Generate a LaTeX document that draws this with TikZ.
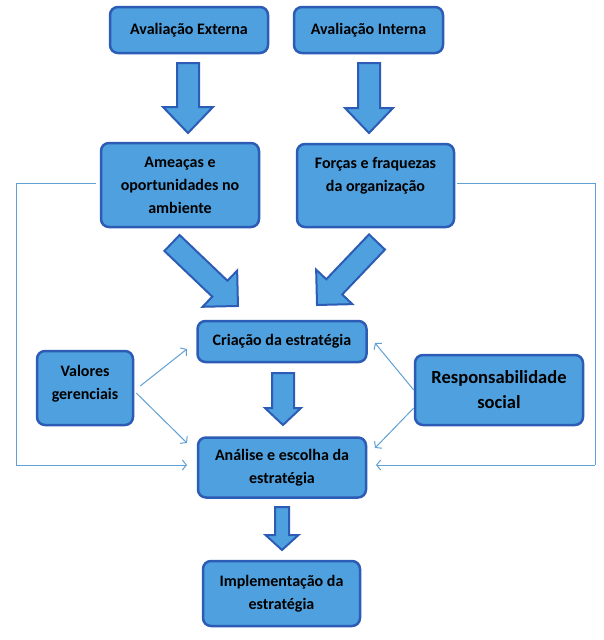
\documentclass[tikz,border=0pt]{standalone}
\usepackage{fontspec}
\setmainfont{Carlito}
\usetikzlibrary{arrows.meta,calc}
\definecolor{boxfill}{RGB}{79,160,222}
\definecolor{boxline}{RGB}{44,92,182}
\definecolor{fbline}{RGB}{96,160,212}
\tikzset{
  box/.style={draw=boxline, line width=2.5pt, fill=boxfill, rounded corners=8pt,
    align=center, inner sep=0pt, font=\fontsize{16}{23}\selectfont\bfseries, text=black},
  bigbox/.style={box, font=\fontsize{18.5}{25}\selectfont\bfseries},
  blockarrow/.style={draw=boxline, line width=2pt, fill=boxfill, line join=miter},
  fb/.style={draw=fbline, line width=1pt, -{Straight Barb[length=4pt,width=10pt]}},
  fbline/.style={draw=fbline, line width=1pt}
}
\newcommand\barrow[5]{%
  \path[blockarrow] let \p1=(#1), \p2=(#2),
    \n1={atan2(\y2-\y1,\x2-\x1)}, \n2={veclen(\x2-\x1,\y2-\y1)} in
    [shift={(\p1)}, rotate=\n1, x=1pt, y=1pt]
    (0,-#3) -- ({\n2-#5},-#3) -- ({\n2-#5},-#4) -- (\n2,0) -- ({\n2-#5},#4) -- ({\n2-#5},#3) -- (0,#3) -- cycle;}
\begin{document}
\begin{tikzpicture}[x=1pt, y=-1pt]
\useasboundingbox (0,0) rectangle (604,640);
% boxes
\node[box, minimum width=158pt, minimum height=46pt] (ext) at (189,30) {Avaliação Externa};
\node[box, minimum width=149pt, minimum height=46pt] (int) at (368.5,30) {Avaliação Interna};
\node[box, minimum width=158pt, minimum height=84pt] (ame) at (180,185) {Ameaças e\\oportunidades no\\ambiente};
\node[box, minimum width=157pt, minimum height=83pt] (for) at (375.5,185.5) {Forças e fraquezas\\da organização\\\mbox{}};
\node[box, minimum width=169pt, minimum height=41pt] (cri) at (282,341.5) {Criação da estratégia};
\node[box, minimum width=168pt, minimum height=60pt] (ana) at (282,467.5) {Análise e escolha da\\estratégia};
\node[box, minimum width=157pt, minimum height=65pt] (imp) at (281.5,593.5) {Implementação da\\estratégia};
\node[box, minimum width=96pt, minimum height=74pt] (val) at (85,388) {Valores\\gerenciais\\[-12pt]\mbox{}};
\node[bigbox, minimum width=168pt, minimum height=70pt] (res) at (499,390) {Responsabilidade\\social};
% block arrows
\coordinate (a1s) at (188,63);  \coordinate (a1e) at (188,133);
\coordinate (a2s) at (369,63);  \coordinate (a2e) at (369,133);
\coordinate (a3s) at (172,243); \coordinate (a3e) at (238,306);
\coordinate (a4s) at (377,242); \coordinate (a4e) at (317,305);
\coordinate (a5s) at (283,373); \coordinate (a5e) at (283,425);
\coordinate (a6s) at (282,507); \coordinate (a6e) at (282,550);
\barrow{a1s}{a1e}{11}{25}{26}
\barrow{a2s}{a2e}{11}{24}{25}
\barrow{a3s}{a3e}{11}{25}{25}
\barrow{a4s}{a4e}{11}{25}{25}
\barrow{a5s}{a5e}{11}{18}{17}
\barrow{a6s}{a6e}{7}{16.5}{15}
% feedback loops
\coordinate (lt) at (16,183); \coordinate (lb) at (16,465); \coordinate (le) at (187,465);
\coordinate (rt) at (595,183); \coordinate (rb) at (595,465); \coordinate (re) at (376,465);
\draw[fbline] ([shift={(-4,-2)}]ame.west) -- (lt) -- (lb);
\draw[fb] (lb) -- (le);
\draw[fbline] ([shift={(2,-2.5)}]for.east) -- (rt) -- (rb);
\draw[fb] (rb) -- (re);
% influences
\coordinate (va1) at (187,349); \coordinate (va2) at (187,443);
\coordinate (ra1) at (375,343); \coordinate (ra2) at (375,448);
\draw[fb] ($(val.east)+(6,-2)$) -- (va1);
\draw[fb] ($(val.east)+(2,5)$) -- (va2);
\draw[fb] (res.west) -- (ra1);
\draw[fb] ($(res.west)+(0,18)$) -- (ra2);
\end{tikzpicture}
\end{document}
